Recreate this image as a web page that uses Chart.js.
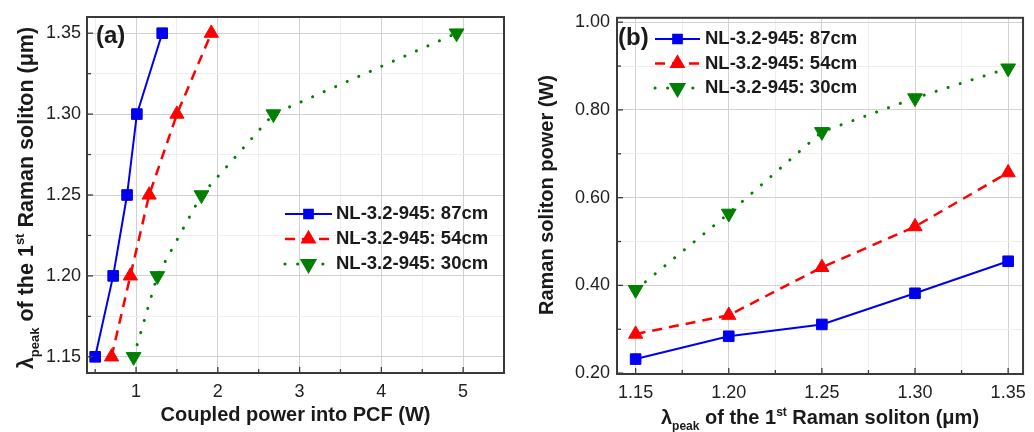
<!DOCTYPE html>
<html><head><meta charset="utf-8">
<script src="https://cdn.jsdelivr.net/npm/chart.js@4.4.1/dist/chart.umd.min.js"></script>
<style>
body{margin:0;background:#fff;width:1034px;height:432px;overflow:hidden;position:relative}
#wa{position:absolute;left:0;top:0;width:515px;height:432px}
#wb{position:absolute;left:515px;top:0;width:519px;height:432px}
</style></head><body>
<div id="wa"><canvas id="ca"></canvas></div>
<div id="wb"><canvas id="cb"></canvas></div>
<script>
// ---------- data ----------
const lambdaPeak = [1.15, 1.20, 1.25, 1.30, 1.35];
const coupledPower87 = [0.50, 0.72, 0.89, 1.01, 1.32];
const coupledPower54 = [0.70, 0.93, 1.16, 1.50, 1.92];
const coupledPower30 = [0.97, 1.26, 1.80, 2.68, 4.92];
const solitonPower87 = [0.232, 0.284, 0.311, 0.382, 0.455];
const solitonPower54 = [0.289, 0.332, 0.441, 0.534, 0.657];
const solitonPower30 = [0.390, 0.564, 0.750, 0.827, 0.895];
const seriesLabels = ['NL-3.2-945: 87cm', 'NL-3.2-945: 54cm', 'NL-3.2-945: 30cm'];
const aXMajor = [1, 2, 3, 4, 5];
const aXMinor = [0.5, 1.5, 2.5, 3.5, 4.5];
const aYMajor = [1.15, 1.20, 1.25, 1.30, 1.35];
const aYMinor = [1.175, 1.225, 1.275, 1.325];
const bXMajor = [1.15, 1.20, 1.25, 1.30, 1.35];
const bXMinor = [1.175, 1.225, 1.275, 1.325];
const bYMajor = [0.20, 0.40, 0.60, 0.80, 1.00];
const bYMinor = [0.30, 0.50, 0.70, 0.90];

// ---------- styles ----------
const FONT = '"Liberation Sans", Arial, sans-serif';
const styles = [
  {color:'#0000f0', dash:[], width:2, pointStyle:'rect', radius:7.5, rotation:0, cap:'butt'},
  {color:'#ff0000', dash:[10,7], width:2.5, pointStyle:'triangle', radius:8.2, rotation:0, cap:'butt'},
  {color:'#007f00', dash:[0.1,12.5], width:3, pointStyle:'triangle', radius:8.5, rotation:180, cap:'round'}
];

function makeDatasets(xs, ysList, swap) {
  return ysList.map((ys, i) => {
    const s = styles[i];
    return {
      label: seriesLabels[i],
      data: xs.map((x, k) => swap ? {x: ys[k], y: x} : {x: x, y: ys[k]}),
      borderColor: s.color, backgroundColor: s.color,
      borderWidth: s.width, borderDash: s.dash, borderCapStyle: s.cap,
      pointStyle: s.pointStyle, pointRadius: s.radius, pointRotation: s.rotation,
      pointBackgroundColor: s.color, pointBorderColor: s.color, pointBorderWidth: 1,
      pointHoverRadius: s.radius, tension: 0, showLine: true, clip: false
    };
  });
}

function isIn(arr, v) { return arr.some(a => Math.abs(a - v) < 1e-9); }

function axis(pos, min, max, major, minor, fmt, size, pad) {
  const all = major.concat(minor).sort((a, b) => a - b);
  return {
    type: 'linear', position: pos, min: min, max: max,
    afterBuildTicks: (sc) => { sc.ticks = all.map(v => ({value: v})); },
    afterFit: (sc) => { if (pos === 'left') sc.width = size; else sc.height = size; },
    ticks: {
      autoSkip: false, maxRotation: 0, padding: pad, color: '#222',
      font: {family: FONT, size: 18},
      callback: (v) => isIn(major, v) ? fmt(v) : ''
    },
    grid: {
      drawTicks: false,
      color: (c) => (c.tick && isIn(major, c.tick.value)) ? '#d2d2d2' : '#eeeeee',
      lineWidth: 1
    },
    border: {display: false},
    title: {display: false}
  };
}

function drawRich(ctx, segs, cx, cy, rotate, size) {
  const base = 'bold ' + size + 'px ' + FONT, small = 'bold ' + Math.round(size * 0.6) + 'px ' + FONT;
  let w = 0;
  segs.forEach(s => { ctx.font = (s.sub || s.sup) ? small : base; s.w = ctx.measureText(s.t).width; w += s.w; });
  ctx.save();
  ctx.translate(cx, cy);
  if (rotate) ctx.rotate(-Math.PI / 2);
  ctx.fillStyle = '#1a1a1a';
  ctx.textBaseline = 'alphabetic';
  ctx.textAlign = 'left';
  let x = -w / 2;
  segs.forEach(s => {
    ctx.font = (s.sub || s.sup) ? small : base;
    const dy = s.sub ? size * 0.3 : (s.sup ? -size * 0.4 : 0);
    ctx.fillText(s.t, x, dy);
    x += s.w;
  });
  ctx.restore();
}

const lambdaTitle = [{t:'\u03bb'}, {t:'peak', sub:true}, {t:' of the 1'}, {t:'st', sup:true}, {t:' Raman soliton (\u03bcm)'}];

const decorPlugin = {
  id: 'decor',
  afterDatasetsDraw(chart, args, opts) {
    const ctx = chart.ctx, a = chart.chartArea;
    ctx.save();
    ctx.strokeStyle = '#3a3a3a';
    ctx.setLineDash([]);
    ctx.lineWidth = 1.3;
    const xs = chart.scales.x, ys = chart.scales.y;
    opts.xMajor.concat(opts.xMinor).forEach(v => {
      const p = xs.getPixelForValue(v), len = isIn(opts.xMajor, v) ? 6 : 4;
      ctx.beginPath(); ctx.moveTo(p, a.bottom); ctx.lineTo(p, a.bottom - len); ctx.stroke();
    });
    opts.yMajor.concat(opts.yMinor).forEach(v => {
      const p = ys.getPixelForValue(v), len = isIn(opts.yMajor, v) ? 6 : 4;
      ctx.beginPath(); ctx.moveTo(a.left, p); ctx.lineTo(a.left + len, p); ctx.stroke();
    });
    ctx.lineWidth = 2;
    ctx.strokeRect(a.left, a.top, a.right - a.left, a.bottom - a.top);
    ctx.restore();
  },
  afterDraw(chart, args, opts) {
    const ctx = chart.ctx, a = chart.chartArea;
    ctx.save();
    ctx.font = 'bold 24px ' + FONT;
    ctx.fillStyle = '#1a1a1a';
    ctx.textBaseline = 'middle';
    ctx.textAlign = 'left';
    ctx.fillText(opts.panel, opts.panelX, opts.panelY);
    chart.data.datasets.forEach((ds, i) => {
      const s = styles[i];
      const y = opts.legY + i * opts.legRow;
      ctx.setLineDash(s.dash);
      ctx.lineCap = s.cap;
      ctx.lineWidth = s.width;
      ctx.strokeStyle = s.color;
      ctx.beginPath(); ctx.moveTo(opts.legX0, y); ctx.lineTo(opts.legX1, y); ctx.stroke();
      ctx.setLineDash([]);
      ctx.fillStyle = s.color;
      Chart.helpers.drawPoint(ctx, {pointStyle: s.pointStyle, rotation: s.rotation, radius: s.radius * 0.82, borderWidth: 1}, (opts.legX0 + opts.legX1) / 2, y);
      ctx.fillStyle = '#1a1a1a';
      ctx.font = 'bold 18.5px ' + FONT;
      ctx.textBaseline = 'middle';
      ctx.fillText(ds.label, opts.legText, y);
    });
    ctx.restore();
    drawRich(ctx, opts.xTitle, (a.left + a.right) / 2, opts.xTitleY, false, 20);
    drawRich(ctx, opts.yTitle, opts.yTitleX, opts.yTitleCY, true, opts.yTitleSize);
  }
};

new Chart(document.getElementById('ca'), {
  type: 'scatter',
  data: {datasets: makeDatasets(lambdaPeak, [coupledPower87, coupledPower54, coupledPower30], true)},
  options: {
    responsive: true, maintainAspectRatio: false, animation: false,
    layout: {padding: {top: 17, right: 11, left: 0, bottom: 0}},
    plugins: {
      legend: {display: false}, tooltip: {enabled: false},
      decor: {
        panel: '(a)', panelX: 96, panelY: 36,
        legX0: 285, legX1: 332, legText: 336, legY: 214, legRow: 25,
        xTitle: [{t:'Coupled power into PCF (W)'}], xTitleY: 421,
        yTitle: lambdaTitle, yTitleX: 33, yTitleCY: 198, yTitleSize: 21.5,
        xMajor: aXMajor, xMinor: aXMinor, yMajor: aYMajor, yMinor: aYMinor
      }
    },
    scales: {
      x: axis('bottom', 0.4, 5.5, aXMajor, aXMinor, v => String(v), 59, 8),
      y: axis('left', 1.14, 1.36, aYMajor, aYMinor, v => v.toFixed(2), 87, 6)
    }
  },
  plugins: [decorPlugin]
});

new Chart(document.getElementById('cb'), {
  type: 'scatter',
  data: {datasets: makeDatasets(lambdaPeak, [solitonPower87, solitonPower54, solitonPower30], false)},
  options: {
    responsive: true, maintainAspectRatio: false, animation: false,
    layout: {padding: {top: 17, right: 4, left: 0, bottom: 0}},
    plugins: {
      legend: {display: false}, tooltip: {enabled: false},
      decor: {
        panel: '(b)', panelX: 103, panelY: 38,
        legX0: 140, legX1: 185, legText: 190, legY: 39, legRow: 24.5,
        xTitle: lambdaTitle, xTitleY: 424,
        yTitle: [{t:'Raman soliton power (W)'}], yTitleX: 38, yTitleCY: 195, yTitleSize: 20,
        xMajor: bXMajor, xMinor: bXMinor, yMajor: bYMajor, yMinor: bYMinor
      }
    },
    scales: {
      x: axis('bottom', 1.14, 1.358, bXMajor, bXMinor, v => v.toFixed(2), 58, 8),
      y: axis('left', 0.198, 1.01, bYMajor, bYMinor, v => v.toFixed(2), 102, 7)
    }
  },
  plugins: [decorPlugin]
});
</script>
</body></html>
